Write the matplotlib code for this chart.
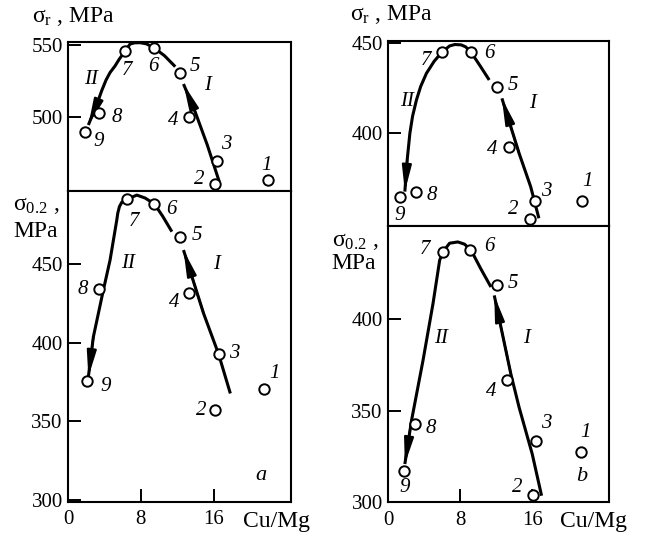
import matplotlib.pyplot as plt

plt.rcParams['font.family'] = 'serif'
plt.rcParams['font.serif'] = ['Liberation Serif', 'DejaVu Serif']
plt.rcParams['mathtext.fontset'] = 'custom'
plt.rcParams['mathtext.rm'] = 'Liberation Serif'
plt.rcParams['mathtext.it'] = 'Liberation Serif:italic'
SERIF = 'Liberation Serif'

point_labels = ['1', '2', '3', '4', '5', '6', '7', '8', '9']

# panel a, sigma_r (top)
a_top_x = [22.0, 16.2, 16.4, 13.3, 12.3, 9.4, 6.3, 3.4, 1.8]
a_top_y = [455.6, 453.1, 469.1, 500.0, 530.5, 548.1, 545.8, 502.4, 489.1]
a_top_I_x = [16.63, 15.31, 13.98, 12.69]
a_top_I_y = [454.7, 480.3, 503.3, 522.8]
a_top_II_x = [11.78, 10.6, 9.43, 8.6, 7.91, 7.3, 6.81, 6.26, 5.6, 5.15, 4.6, 4.16, 3.7, 3.31, 2.8, 2.21]
a_top_II_y = [534.9, 542.5, 548.1, 550.8, 551.6, 551.5, 550.7, 545.8, 540.0, 535.4, 530.8, 525.6, 518.5, 511.6, 503.5, 494.2]

# panel a, sigma_0.2 (bottom)
a_bot_x = [21.6, 16.19, 16.56, 13.32, 12.25, 9.49, 6.45, 3.39, 2.10]
a_bot_y = [370.4, 357.0, 392.7, 431.4, 467.1, 488.3, 491.3, 433.9, 375.5]
a_bot_I_x = [17.85, 16.56, 14.90, 12.69]
a_bot_I_y = [367.7, 392.7, 418.7, 459.0]
a_bot_II_x = [11.41, 10.4, 9.49, 8.47, 7.55, 6.45, 5.9, 5.63, 5.45, 5.34, 4.60, 3.86, 2.76, 2.21]
a_bot_II_y = [470.7, 480.5, 488.3, 492.1, 494.0, 491.3, 489.5, 486.6, 482.5, 478.1, 452.6, 433.5, 403.7, 378.3]

# panel b, sigma_r (top)
b_top_x = [21.52, 15.72, 16.27, 13.43, 12.14, 9.2, 5.96, 3.13, 1.29]
b_top_y = [362.4, 352.4, 362.4, 392.6, 425.6, 445.0, 445.0, 367.2, 364.4]
b_top_I_x = [16.74, 15.83, 14.54, 12.63]
b_top_I_y = [352.8, 370.3, 388.9, 419.4]
b_top_II_x = [11.22, 10.2, 9.2, 8.6, 8.10, 7.4, 6.81, 5.96, 5.1, 4.24, 3.6, 3.13, 2.7, 2.40, 2.10, 1.84]
b_top_II_y = [429.6, 437.5, 445.0, 448.0, 449.1, 449.3, 448.5, 445.0, 440.0, 433.3, 426.0, 418.5, 409.5, 400.0, 385.2, 367.6]

# panel b, sigma_0.2 (bottom)
b_bot_x = [21.46, 16.08, 16.38, 13.25, 12.14, 9.13, 6.07, 2.95, 1.73]
b_bot_y = [327.8, 304.2, 333.8, 367.0, 419.0, 437.8, 436.8, 342.9, 317.4]
b_bot_I_x = [17.04, 16.0, 14.54, 13.62, 11.78]
b_bot_I_y = [303.7, 326.5, 352.0, 370.3, 413.1]
b_bot_II_x = [11.41, 10.3, 9.2, 8.47, 7.73, 6.81, 6.07, 5.71, 4.97, 3.86, 2.58, 1.84]
b_bot_II_y = [417.7, 427.5, 437.8, 441.1, 442.3, 441.6, 436.8, 432.3, 408.6, 377.6, 344.7, 321.0]

# label offsets in pixels (dx right, dy down)
a_top_off = [(-2, -15), (-16, -4), (9, -17), (-16, 4), (15, -6), (0, 19), (2, 19), (18, 4), (14, 9)]
a_bot_off = [(10, -16), (-14, 0), (16, -1), (-15, 9), (17, -2), (17, 5), (7, 22), (-16, 0), (18, 5)]
b_top_off = [(6, -19), (-16, -9), (12, -9), (-17, 3), (15, -2), (18, 1), (-16, 8), (15, 3), (0, 18)]
b_bot_off = [(4, -19), (-16, -7), (11, -17), (-16, 12), (15, -1), (19, -4), (-18, -3), (16, 5), (1, 17)]


def arrow_curve(ax, xs, ys):
    ax.plot(xs, ys, color='black', lw=2.2, solid_capstyle='butt',
            solid_joinstyle='round', clip_on=False)
    ax.annotate('', xy=(xs[-1], ys[-1]), xytext=(xs[-2], ys[-2]),
                arrowprops=dict(arrowstyle='-|>,head_length=1.2,head_width=0.22',
                                color='black', lw=1.6, mutation_scale=13,
                                shrinkA=0, shrinkB=0))


def draw_subplot(ax, x, y, offsets, cI, cII, ylim, yticks, bottom):
    arrow_curve(ax, cI[0], cI[1])
    arrow_curve(ax, cII[0], cII[1])
    ax.plot(x, y, 'o', ms=7.5, mfc='white', mec='black', mew=1.4, clip_on=False, zorder=5)
    for lbl, xi, yi, (dx, dy) in zip(point_labels, x, y, offsets):
        ax.annotate(lbl, (xi, yi), xytext=(dx, -dy), textcoords='offset pixels',
                    ha='center', va='center', style='italic', fontsize=15, family=SERIF)
    ax.set_xlim(0, 24.5)
    ax.set_ylim(*ylim)
    ax.set_yticks(yticks)
    ax.tick_params(axis='both', direction='in', length=9.5, width=1.4, labelsize=15, pad=4)
    if bottom:
        ax.set_xticks([0, 8, 16])
        ax.tick_params(axis='x', pad=6)
    else:
        ax.set_xticks([])
    for lab in ax.get_xticklabels() + ax.get_yticklabels():
        lab.set_family(SERIF)
    for s in ax.spines.values():
        s.set_linewidth(1.5)


def roman(ax, x, y, s):
    ax.text(x, y, s, style='italic', fontsize=15, ha='center', va='center', family=SERIF)


fig = plt.figure(figsize=(6.45, 5.38), dpi=100)

ax_at = fig.add_axes([0.1059, 0.645, 0.3448, 0.2775])
ax_ab = fig.add_axes([0.1059, 0.0669, 0.3448, 0.5781])
ax_bt = fig.add_axes([0.602, 0.5799, 0.3417, 0.3444])
ax_bb = fig.add_axes([0.602, 0.0660, 0.3417, 0.5139])

draw_subplot(ax_at, a_top_x, a_top_y, a_top_off, (a_top_I_x, a_top_I_y),
             (a_top_II_x, a_top_II_y), (448.2, 552.3), [500, 550], False)
draw_subplot(ax_ab, a_bot_x, a_bot_y, a_bot_off, (a_bot_I_x, a_bot_I_y),
             (a_bot_II_x, a_bot_II_y), (298.6, 496.6), [300, 350, 400, 450], True)
draw_subplot(ax_bt, b_top_x, b_top_y, b_top_off, (b_top_I_x, b_top_I_y),
             (b_top_II_x, b_top_II_y), (348.5, 451.4), [400, 450], False)
draw_subplot(ax_bb, b_bot_x, b_bot_y, b_bot_off, (b_bot_I_x, b_bot_I_y),
             (b_bot_II_x, b_bot_II_y), (300, 451), [300, 350, 400], True)

# curve names
roman(ax_at, 2.47, 525.6, 'II')
roman(ax_at, 15.3, 522.1, 'I')
roman(ax_ab, 6.62, 450.5, 'II')
roman(ax_ab, 16.38, 450.1, 'I')
roman(ax_bt, 2.10, 417.6, 'II')
roman(ax_bt, 16.0, 416.7, 'I')
roman(ax_bb, 5.89, 389.4, 'II')
roman(ax_bb, 15.34, 389.4, 'I')

ax_ab.text(21.24, 315.6, 'a', style='italic', fontsize=16, ha='center', va='center', family=SERIF)
ax_bb.text(21.52, 314.1, 'b', style='italic', fontsize=16, ha='center', va='center', family=SERIF)

# axis titles
W, H = 645.0, 538.0
fig.text(31.7 / W, 1 - 16 / H, r'σ$_{\mathrm{r}}$ , MPa', fontsize=17, ha='left', va='center', family=SERIF)
fig.text(350 / W, 1 - 15 / H, r'σ$_{\mathrm{r}}$ , MPa', fontsize=17, ha='left', va='center', family=SERIF)
fig.text(13.3 / W, 1 - 205 / H, r'σ$_{0.2}$ ,', fontsize=17, ha='left', va='center', family=SERIF)
fig.text(13.3 / W, 1 - 231.7 / H, 'MPa', fontsize=17, ha='left', va='center', family=SERIF)
fig.text(331.7 / W, 1 - 241.7 / H, r'σ$_{0.2}$ ,', fontsize=17, ha='left', va='center', family=SERIF)
fig.text(331.7 / W, 1 - 263.3 / H, 'MPa', fontsize=17, ha='left', va='center', family=SERIF)
fig.text(242.7 / W, 1 - 521.7 / H, 'Cu/Mg', fontsize=17, ha='left', va='center', family=SERIF)
fig.text(560 / W, 1 - 521.7 / H, 'Cu/Mg', fontsize=17, ha='left', va='center', family=SERIF)

plt.savefig('out.png', dpi=100)
